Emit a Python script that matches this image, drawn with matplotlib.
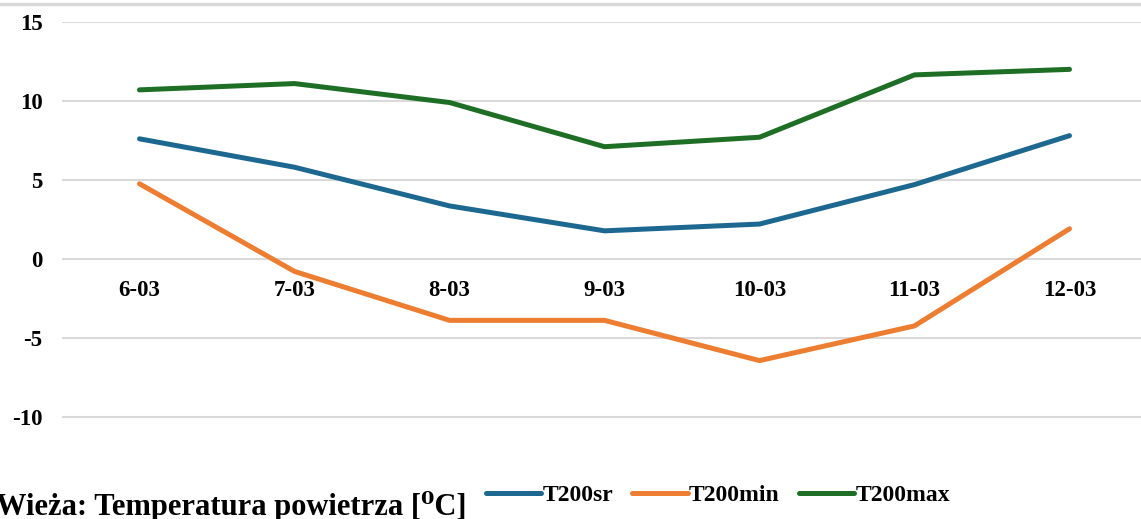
import matplotlib
matplotlib.use("Agg")
import matplotlib.pyplot as plt
from matplotlib.lines import Line2D

# Data
days = ["6-03", "7-03", "8-03", "9-03", "10-03", "11-03", "12-03"]
t200sr = [7.6, 5.8, 3.35, 1.77, 2.2, 4.7, 7.8]
t200min = [4.75, -0.8, -3.9, -3.9, -6.45, -4.25, 1.9]
t200max = [10.7, 11.1, 9.9, 7.1, 7.7, 11.65, 12.0]

plt.rcParams['font.family'] = ['Liberation Serif', 'DejaVu Serif']
plt.rcParams['font.weight'] = 'bold'
plt.rcParams['axes.unicode_minus'] = False

W, H = 1141, 519
fig = plt.figure(figsize=(W / 100, H / 100), dpi=100)

# plot area: left edge at 62px, 15 at y=22px, 15.8 px per degree
ax = fig.add_axes([62 / W, 1 - 464 / H, 1 - 62 / W, 442 / H])

x = list(range(len(days)))
lw = 3.6
ax.plot(x, t200sr, color='#1d6890', lw=lw, solid_capstyle='round', label='T200sr')
ax.plot(x, t200min, color='#ed7d31', lw=lw, solid_capstyle='round', label='T200min')
ax.plot(x, t200max, color='#1e6f25', lw=lw, solid_capstyle='round', label='T200max')

ax.set_ylim(-13, 15)
ax.set_xlim(-0.5, -0.5 + (W - 62) / 155)
ax.set_yticks([-10, -5, 0, 5, 10, 15])
ax.set_xticks(x)
ax.set_xticklabels(days)

ax.grid(axis='y', color='#d9d9d9', lw=1.5)
ax.set_axisbelow(True)
for s in ax.spines.values():
    s.set_visible(False)
# category labels sit just under the zero line
ax.spines['bottom'].set_position(('data', 0))

ax.tick_params(axis='y', length=0, pad=14, labelsize=16.5)
ax.tick_params(axis='x', length=0, pad=15, labelsize=16.5)

# thin gray frame line at the top
fig.add_artist(Line2D([0, 1], [1 - 4 / H] * 2, transform=fig.transFigure,
                      color='#d9d9d9', lw=2.5))

fig.text(-4 / W, 4 / H, "Wieża: Temperatura powietrza [⁰C]", fontsize=22,
         fontweight='bold', ha='left', va='baseline')

fig.legend(loc='center left', bbox_to_anchor=(486 / W, 1 - 495 / H), ncol=3,
           frameon=False, fontsize=17, handlelength=2.35, handletextpad=0.05,
           columnspacing=0.8, borderaxespad=0, borderpad=0)

fig.savefig("out.png", dpi=100)
